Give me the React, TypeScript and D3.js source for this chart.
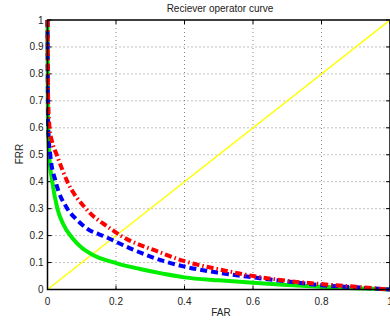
import React, { useRef, useEffect } from "react";
import * as d3 from "d3";

// ROC curves
const greenFar = [0, 0.001, 0.005, 0.014, 0.029, 0.045, 0.073, 0.1, 0.13, 0.2, 0.27, 0.34, 0.4, 0.5, 0.6, 0.7, 0.8, 0.9, 1];
const greenFrr = [1, 0.65, 0.5, 0.4, 0.3, 0.245, 0.19, 0.155, 0.13, 0.098, 0.076, 0.058, 0.045, 0.034, 0.025, 0.017, 0.01, 0.005, 0];

const blueFar = [0, 0.002, 0.008, 0.024, 0.058, 0.087, 0.112, 0.17, 0.25, 0.34, 0.4, 0.5, 0.6, 0.7, 0.8, 0.9, 1];
const blueFrr = [1, 0.6, 0.5, 0.4, 0.3, 0.257, 0.229, 0.195, 0.148, 0.105, 0.085, 0.062, 0.045, 0.03, 0.016, 0.008, 0];

const redFar = [0, 0.002, 0.006, 0.013, 0.027, 0.058, 0.112, 0.18, 0.214, 0.326, 0.4, 0.5, 0.6, 0.7, 0.8, 0.9, 1];
const redFrr = [1, 0.7, 0.6, 0.55, 0.5, 0.4, 0.3, 0.229, 0.2, 0.139, 0.105, 0.075, 0.05, 0.032, 0.02, 0.01, 0];

const chanceFar = [0, 1];
const chanceFrr = [0, 1];

const yTicks = [0, 0.1, 0.2, 0.3, 0.4, 0.5, 0.6, 0.7, 0.8, 0.9, 1];
const xTicks = [0, 0.2, 0.4, 0.6, 0.8, 1];

export default function App() {
  const svgRef = useRef<SVGSVGElement>(null);

  useEffect(() => {
    const svg = d3.select(svgRef.current);
    svg.selectAll("*").remove();

    const margin = { top: 20, right: 0, bottom: 30.5, left: 47.5 };
    const W = 390, H = 320;
    const width = W - margin.left - margin.right;
    const height = H - margin.top - margin.bottom;

    const g = svg.append("g").attr("transform", `translate(${margin.left},${margin.top})`);

    const x = d3.scaleLinear().domain([0, 1]).range([0, width]);
    const y = d3.scaleLinear().domain([0, 1]).range([height, 0]);

    const font = "Helvetica, Arial, 'Liberation Sans', sans-serif";

    // dotted grid
    g.selectAll(".gx").data(xTicks.slice(1, -1)).enter().append("line")
      .attr("x1", d => x(d)).attr("x2", d => x(d))
      .attr("y1", 0).attr("y2", height)
      .attr("stroke", "#555").attr("stroke-width", 0.7).attr("stroke-dasharray", "1,3");
    g.selectAll(".gy").data(yTicks.slice(1, -1)).enter().append("line")
      .attr("x1", 0).attr("x2", width)
      .attr("y1", d => y(d)).attr("y2", d => y(d))
      .attr("stroke", "#555").attr("stroke-width", 0.7).attr("stroke-dasharray", "1,3");

    // tick marks inside, on all four sides
    xTicks.forEach(t => {
      g.append("line").attr("x1", x(t)).attr("x2", x(t)).attr("y1", height).attr("y2", height - 4).attr("stroke", "#000");
      g.append("line").attr("x1", x(t)).attr("x2", x(t)).attr("y1", 0).attr("y2", 4).attr("stroke", "#000");
    });
    yTicks.forEach(t => {
      g.append("line").attr("x1", 0).attr("x2", 4).attr("y1", y(t)).attr("y2", y(t)).attr("stroke", "#000");
      g.append("line").attr("x1", width).attr("x2", width - 4).attr("y1", y(t)).attr("y2", y(t)).attr("stroke", "#000");
    });

    const line = d3.line<[number, number]>()
      .x(d => x(d[0]))
      .y(d => y(d[1]))
      .curve(d3.curveMonotoneX);

    const zip = (a: number[], b: number[]) => a.map((v, i) => [v, b[i]] as [number, number]);

    const plot = g.append("g");
    plot.append("path").datum(zip(chanceFar, chanceFrr))
      .attr("fill", "none").attr("stroke", "#ffff00").attr("stroke-width", 1.5)
      .attr("d", d3.line<[number, number]>().x(d => x(d[0])).y(d => y(d[1])));

    plot.append("path").datum(zip(greenFar, greenFrr))
      .attr("fill", "none").attr("stroke", "#00ee00").attr("stroke-width", 4)
      .attr("d", line);

    plot.append("path").datum(zip(blueFar, blueFrr))
      .attr("fill", "none").attr("stroke", "#0000ff").attr("stroke-width", 4)
      .attr("stroke-dasharray", "7,4")
      .attr("d", line);

    plot.append("path").datum(zip(redFar, redFrr))
      .attr("fill", "none").attr("stroke", "#ff0000").attr("stroke-width", 4)
      .attr("stroke-dasharray", "7,3,1.5,3")
      .attr("d", line);

    // axes box
    g.append("rect").attr("x", 0).attr("y", 0).attr("width", width).attr("height", height)
      .attr("fill", "none").attr("stroke", "#000").attr("stroke-width", 1.5);

    // tick labels
    g.selectAll(".yl").data(yTicks).enter().append("text")
      .attr("x", -4).attr("y", d => y(d)).attr("dy", "0.35em")
      .attr("text-anchor", "end").attr("font-size", 10).attr("font-family", font).attr("fill", "#222")
      .text(d => d3.format("~g")(d));
    g.selectAll(".xl").data(xTicks).enter().append("text")
      .attr("x", d => x(d)).attr("y", height + 12).attr("dy", "0.35em")
      .attr("text-anchor", "middle").attr("font-size", 10).attr("font-family", font).attr("fill", "#222")
      .text(d => d3.format("~g")(d));

    // labels
    svg.append("text").attr("x", 220).attr("y", 12)
      .attr("text-anchor", "middle").attr("font-size", 10).attr("font-family", font).attr("fill", "#222")
      .text("Reciever operator curve");
    svg.append("text").attr("x", 221).attr("y", 316)
      .attr("text-anchor", "middle").attr("font-size", 10).attr("font-family", font).attr("fill", "#222")
      .text("FAR");
    svg.append("text").attr("transform", "translate(23,154) rotate(-90)")
      .attr("text-anchor", "middle").attr("font-size", 10).attr("font-family", font).attr("fill", "#222")
      .text("FRR");
  }, []);

  return (
    <svg ref={svgRef} width={390} height={320}
      style={{ position: "absolute", left: 0, top: 0, background: "#fff" }} />
  );
}
